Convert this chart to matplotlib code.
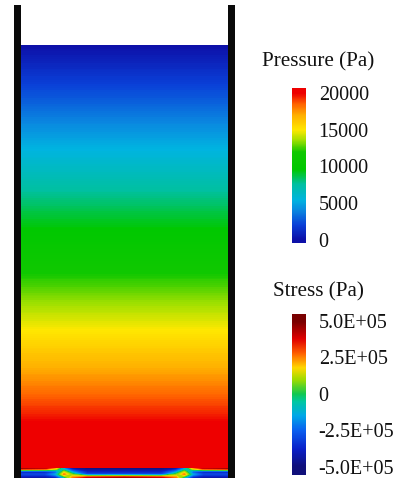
import numpy as np
import matplotlib
matplotlib.use("Agg")
import matplotlib.pyplot as plt
from matplotlib.colors import LinearSegmentedColormap, Normalize
from matplotlib.patches import Rectangle

# hydrostatic pressure down the tank (fraction of fluid depth -> Pa)
depth_frac = [0.0, 0.125, 0.25, 0.375, 0.5, 0.625, 0.75, 0.875, 1.0]
pressure_pa = [0, 2700, 5500, 8300, 11100, 13900, 16700, 19600, 22500]

# bending stress in the bottom plate (rows top -> bottom, columns along plate)
plate_x = [0.0, 0.12, 0.17, 0.21, 0.25, 0.32, 0.5, 0.68, 0.75, 0.79, 0.83, 0.88, 1.0]
plate_rows = [0.0, 0.35, 0.65, 1.0]
stress_top = [4.5e5, 4.0e5, 2.0e5, -2.0e5, -4.5e5, -5.0e5, -5.0e5, -5.0e5, -4.5e5, -2.0e5, 2.0e5, 4.0e5, 4.5e5]
stress_upper = [-4.0e5, -4.0e5, -3.0e5, 1.0e5, -2.0e5, -4.0e5, -4.0e5, -4.0e5, -2.0e5, 1.0e5, -3.0e5, -4.0e5, -4.0e5]
stress_lower = [-3.0e5, -3.0e5, -1.5e5, 2.5e5, 0.5e5, -3.0e5, -3.0e5, -3.0e5, 0.5e5, 2.5e5, -1.5e5, -3.0e5, -3.0e5]
stress_bottom = [-4.5e5, -4.5e5, -4.0e5, -1.0e5, 2.5e5, 4.0e5, 4.5e5, 4.0e5, 2.5e5, -1.0e5, -4.0e5, -4.5e5, -4.5e5]

p_ticks = [0, 5000, 10000, 15000, 20000]
p_labels = ["0", "5000", "10000", "15000", "20000"]
s_ticks = [-5e5, -2.5e5, 0, 2.5e5, 5e5]
s_labels = ["-5.0E+05", "-2.5E+05", "0", "2.5E+05", "5.0E+05"]

p_cmap = LinearSegmentedColormap.from_list("pressure", [
    (0.0, "#0d10a8"), (0.1, "#0a40d8"), (0.2, "#0a88e0"), (0.27, "#00b4e0"),
    (0.38, "#00c0a0"), (0.48, "#00c800"), (0.6, "#10c800"), (0.68, "#a0e000"),
    (0.75, "#ffe800"), (0.85, "#ffb000"), (0.93, "#ff6000"), (1.0, "#ee0000")])
s_cmap = LinearSegmentedColormap.from_list("stress", [
    (0.0, "#10107a"), (0.12, "#0a20c8"), (0.25, "#0a60f0"), (0.35, "#00a8e8"),
    (0.45, "#00c8a0"), (0.5, "#10c850"), (0.6, "#a0dc00"), (0.68, "#ffd800"),
    (0.78, "#ff6000"), (0.88, "#e00000"), (1.0, "#7a0000")])
p_norm = Normalize(0, 20000)
s_norm = Normalize(-5e5, 5e5)

plt.rcParams["font.family"] = ["Liberation Serif", "DejaVu Serif"]
FS = 14.5
TXT = "#111111"

W, H = 398, 479
fig = plt.figure(figsize=(W / 100, H / 100), dpi=100)
ax = fig.add_axes([0, 0, 1, 1])
ax.set_xlim(0, W)
ax.set_ylim(H, 0)
ax.axis("off")

# tank geometry (pixels)
wall_w = 7
left_wall, right_wall = 13.5, 228.0
wall_top, wall_bot = 5, 478
fluid_top, plate_top, plate_bot = 45, 468.5, 477.5
x0, x1 = left_wall + wall_w, right_wall

# fluid pressure field
px = np.array([x0, x1])
py = fluid_top + np.array(depth_frac) * (plate_top - fluid_top)
pz = np.tile(np.array(pressure_pa, float)[:, None], (1, 2))
ax.contourf(px, py, pz, levels=np.linspace(0, 22500, 226), cmap=p_cmap,
            norm=p_norm, antialiased=False)

# plate stress field
sx = x0 + np.array(plate_x) * (x1 - x0)
sy = plate_top + np.array(plate_rows) * (plate_bot - plate_top)
sz = np.array([stress_top, stress_upper, stress_lower, stress_bottom])
ax.contourf(sx, sy, sz, levels=np.linspace(-5e5, 5e5, 201), cmap=s_cmap,
            norm=s_norm, antialiased=False)

# walls
for xw in (left_wall, right_wall):
    ax.add_patch(Rectangle((xw, wall_top), wall_w, wall_bot - wall_top,
                           facecolor="#0a0a0a", edgecolor="none", zorder=5))


def color_bar(top, bottom, lo, hi, cmap, norm, ticks, labels, title, title_y):
    left, right = 292, 305.5
    cax = fig.add_axes([left / W, 1 - bottom / H, (right - left) / W, (bottom - top) / H])
    grad = np.linspace(lo, hi, 300).reshape(-1, 1)
    cax.imshow(grad, cmap=cmap, norm=norm, aspect="auto", origin="lower",
               extent=[0, 1, lo, hi])
    cax.set_xlim(0, 1)
    cax.set_ylim(lo, hi)
    cax.set_xticks([])
    cax.yaxis.tick_right()
    cax.set_yticks(ticks, labels)
    cax.tick_params(axis="y", length=0, pad=9.5, labelsize=FS, labelcolor=TXT)
    for s in cax.spines.values():
        s.set_visible(False)
    fig.text(318.5 / W, 1 - title_y / H, title, ha="center", va="center",
             fontsize=15.2, color=TXT)


color_bar(88, 243, -410, 20680, p_cmap, p_norm, p_ticks, p_labels,
          "Pressure (Pa)", 62)
color_bar(314, 475, -5.55e5, 5.48e5, s_cmap, s_norm, s_ticks, s_labels,
          "Stress (Pa)", 292)

fig.savefig("out.png", dpi=100)
